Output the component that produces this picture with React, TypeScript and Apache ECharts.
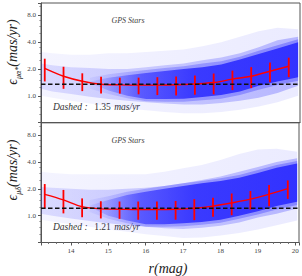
import React, { useEffect, useRef } from "react";
import * as echarts from "echarts";

// Binned statistics (magnitude bins)
const mags = [13.3, 13.8, 14.3, 14.8, 15.3, 15.8, 16.3, 16.8, 17.3, 17.8, 18.3, 18.8, 19.3, 19.8];
const raMean = [2.03, 1.66, 1.46, 1.35, 1.33, 1.32, 1.32, 1.33, 1.36, 1.41, 1.54, 1.66, 1.89, 2.15];
const raSigma = [0.58, 0.46, 0.33, 0.29, 0.27, 0.28, 0.3, 0.32, 0.33, 0.37, 0.38, 0.44, 0.47, 0.53];
const decMean = [1.73, 1.5, 1.26, 1.19, 1.18, 1.17, 1.17, 1.18, 1.21, 1.28, 1.39, 1.53, 1.74, 2.01];
const decSigma = [0.53, 0.44, 0.3, 0.26, 0.26, 0.27, 0.27, 0.28, 0.32, 0.31, 0.38, 0.36, 0.47, 0.47];
const raDashed = 1.35;
const decDashed = 1.21;

// Point cloud envelopes
const cloudMag = [13.2, 13.5, 14, 14.5, 15, 15.5, 16, 16.5, 17, 17.5, 18, 18.5, 19, 19.5, 20.05];
const raHaloTop = [3.1, 3.0, 2.9, 2.9, 3.0, 3.0, 3.1, 3.2, 3.3, 3.6, 4.0, 4.6, 5.3, 5.8, 5.6];
const raHaloBot = [1.0, 0.95, 0.88, 0.82, 0.76, 0.72, 0.69, 0.66, 0.64, 0.64, 0.66, 0.7, 0.76, 0.85, 1.0];
const raMidTop = [2.3, 2.2, 2.1, 2.05, 2.0, 2.0, 2.1, 2.2, 2.3, 2.5, 2.7, 3.0, 3.5, 4.2, 4.6];
const raMidBot = [1.2, 1.12, 1.05, 0.98, 0.92, 0.88, 0.85, 0.82, 0.8, 0.8, 0.83, 0.88, 0.95, 1.08, 1.3];
const decHaloTop = [3.1, 3.0, 2.9, 2.9, 2.9, 2.9, 2.9, 3.1, 3.4, 3.7, 4.2, 4.9, 5.5, 5.6, 5.2];
const decHaloBot = [0.9, 0.86, 0.8, 0.75, 0.7, 0.66, 0.62, 0.59, 0.56, 0.57, 0.6, 0.64, 0.7, 0.78, 0.88];
const decMidTop = [2.1, 2.05, 2.0, 1.95, 1.95, 2.0, 2.05, 2.15, 2.3, 2.5, 2.75, 3.1, 3.5, 4.0, 4.4];
const decMidBot = [1.05, 1.0, 0.93, 0.87, 0.82, 0.78, 0.75, 0.72, 0.71, 0.73, 0.77, 0.84, 0.95, 1.05, 1.2];

const coreMag = [14.5, 15, 15.5, 16, 16.5, 17, 17.5, 18, 18.5, 19, 19.5, 20.05];
const raInnerTop = [1.6, 1.75, 1.85, 1.95, 2.05, 2.15, 2.3, 2.45, 2.75, 3.2, 3.7, 4.3];
const raInnerBot = [1.2, 1.05, 0.94, 0.87, 0.86, 0.86, 0.89, 0.93, 1.02, 1.17, 1.32, 1.48];
const raCoreTop = [1.45, 1.6, 1.7, 1.8, 1.9, 2.0, 2.1, 2.25, 2.55, 2.95, 3.4, 4.0];
const raCoreBot = [1.4, 1.15, 1.0, 0.92, 0.92, 0.93, 0.97, 1.02, 1.12, 1.3, 1.45, 1.62];
const decInnerTop = [1.5, 1.65, 1.85, 2.0, 2.15, 2.3, 2.45, 2.62, 2.85, 3.25, 3.7, 4.1];
const decInnerBot = [1.1, 0.92, 0.82, 0.75, 0.75, 0.76, 0.79, 0.83, 0.92, 1.03, 1.17, 1.32];
const decCoreTop = [1.3, 1.5, 1.7, 1.85, 2.0, 2.15, 2.3, 2.45, 2.65, 3.0, 3.45, 3.85];
const decCoreBot = [1.25, 1.0, 0.88, 0.8, 0.8, 0.82, 0.85, 0.9, 1.0, 1.12, 1.28, 1.43];

const yTickValues = [1, 2, 4, 8];
const X_MIN = 13.2;
const X_MAX = 20.1;
const Y_MIN = 0.5;
const Y_MAX = 11;

const SERIF = "'Liberation Serif', 'DejaVu Serif', serif";

function rgba(a: number) {
  return `rgba(32,32,255,${a})`;
}

function band(idx: number, xs: number[], top: number[], bot: number[], stops: [number, number][], z: number) {
  const fill = new echarts.graphic.LinearGradient(
    0, 0, 1, 0,
    stops.map(([o, a]) => ({ offset: o, color: rgba(a) }))
  );
  return {
    type: "custom",
    xAxisIndex: idx,
    yAxisIndex: idx,
    clip: true,
    silent: true,
    z,
    data: [[xs[0], top[0]]],
    renderItem: (_p: any, api: any) => {
      const up = xs.map((x, i) => api.coord([x, top[i]]));
      const lo = xs.map((x, i) => api.coord([x, bot[i]])).reverse();
      return {
        type: "polygon",
        shape: { points: up.concat(lo), smooth: 0 },
        style: { fill, stroke: null },
      };
    },
  };
}

function errBars(idx: number, mean: number[], sig: number[]) {
  return {
    type: "custom",
    xAxisIndex: idx,
    yAxisIndex: idx,
    z: 6,
    encode: { x: 0, y: [1, 2] },
    data: mags.map((m, i) => [m, mean[i] - sig[i], mean[i] + sig[i]]),
    renderItem: (_p: any, api: any) => {
      const a = api.coord([api.value(0), api.value(1)]);
      const b = api.coord([api.value(0), api.value(2)]);
      return {
        type: "line",
        shape: { x1: a[0], y1: a[1], x2: b[0], y2: b[1] },
        style: { stroke: "#ff0000", lineWidth: 1.8 },
      };
    },
  };
}

function panelSeries(
  idx: number,
  haloTop: number[], haloBot: number[], midTop: number[], midBot: number[],
  innerTop: number[], innerBot: number[],
  coreTop: number[], coreBot: number[], mean: number[], sig: number[], dashed: number
) {
  return [
    band(idx, cloudMag, haloTop, haloBot, [[0, 0.05], [0.5, 0.07], [1, 0.09]], 1),
    band(idx, cloudMag, midTop, midBot, [[0, 0.12], [0.3, 0.18], [1, 0.26]], 2),
    band(idx, coreMag, innerTop, innerBot, [[0, 0.05], [0.25, 0.25], [1, 0.32]], 3),
    band(idx, coreMag, coreTop, coreBot, [[0, 0.05], [0.25, 0.55], [0.5, 0.78], [1, 0.82]], 4),
    {
      type: "line",
      xAxisIndex: idx,
      yAxisIndex: idx,
      z: 5,
      smooth: 0.35,
      symbol: "none",
      lineStyle: { color: "#ff0000", width: 1.4 },
      data: mags.map((m, i) => [m, mean[i]]),
    },
    errBars(idx, mean, sig),
    {
      type: "line",
      xAxisIndex: idx,
      yAxisIndex: idx,
      z: 7,
      symbol: "none",
      lineStyle: { color: "#111", width: 1.3, type: [4.5, 2.5] },
      data: [[X_MIN, dashed], [X_MAX, dashed]],
    },
  ];
}

function yAxis(idx: number) {
  return {
    type: "log",
    logBase: 2,
    gridIndex: idx,
    min: Y_MIN,
    max: Y_MAX,
    axisLine: { show: true, lineStyle: { color: "#555", width: 1 } },
    axisTick: { show: true, length: 3, lineStyle: { color: "#555" } },
    minorTick: { show: true, splitNumber: 4, length: 1.5, lineStyle: { color: "#777" } },
    splitLine: { show: false },
    minorSplitLine: { show: false },
    axisLabel: {
      fontFamily: SERIF,
      fontSize: 7,
      color: "#444",
      margin: 5,
      formatter: (v: number) => {
        const r = Math.round(v * 100) / 100;
        return yTickValues.includes(r) ? r.toFixed(1) : "";
      },
    },
  };
}

function xAxis(idx: number, labels: boolean) {
  return {
    type: "value",
    gridIndex: idx,
    min: X_MIN,
    max: X_MAX,
    splitNumber: 7,
    axisLine: { show: true, onZero: false, lineStyle: { color: "#555", width: 1 } },
    axisTick: { show: labels, length: 3, lineStyle: { color: "#555" } },
    minorTick: { show: labels, splitNumber: 5, length: 1.5, lineStyle: { color: "#777" } },
    splitLine: { show: false },
    axisLabel: {
      show: labels,
      fontFamily: SERIF,
      fontSize: 7,
      color: "#444",
      margin: 5,
      formatter: (v: number) => (Math.abs(v - Math.round(v)) < 1e-6 ? String(Math.round(v)) : ""),
    },
  };
}

function yName(x: number, y: number, sub: string) {
  return {
    type: "text",
    x,
    y,
    rotation: Math.PI / 2,
    style: {
      text: `{a|ϵ}{s|${sub}}{a|(mas/yr)}`,
      align: "center",
      verticalAlign: "middle",
      rich: {
        a: { fontFamily: SERIF, fontStyle: "italic", fontSize: 14, fill: "#222", lineHeight: 20, verticalAlign: "middle" },
        s: { fontFamily: SERIF, fontStyle: "italic", fontSize: 8, fill: "#222", lineHeight: 20, verticalAlign: "bottom" },
      },
    },
  };
}

function dashedText(x: number, y: number, val: number) {
  return {
    type: "text",
    x,
    y,
    style: {
      text: `{i|Dashed :}  {n|${val.toFixed(2)}} {i|mas/yr}`,
      align: "left",
      verticalAlign: "middle",
      rich: {
        i: { fontFamily: SERIF, fontStyle: "italic", fontSize: 9.5, fill: "#333" },
        n: { fontFamily: SERIF, fontSize: 9.5, fill: "#333" },
      },
    },
  };
}

function gpsText(x: number, y: number) {
  return {
    type: "text",
    x,
    y,
    style: {
      text: "GPS Stars",
      align: "center",
      verticalAlign: "middle",
      fontFamily: SERIF,
      fontStyle: "italic",
      fontSize: 8,
      fill: "#444",
    },
  };
}

export default function App() {
  const ref = useRef<HTMLDivElement>(null);
  useEffect(() => {
    if (!ref.current) return;
    const chart = echarts.init(ref.current, undefined, { renderer: "svg" });
    chart.setOption({
      animation: false,
      backgroundColor: "#fff",
      grid: [
        { left: 41, top: 3, width: 259, height: 119.7, show: true, borderColor: "#555", borderWidth: 1, backgroundColor: "transparent" },
        { left: 41, top: 122.7, width: 259, height: 119.8, show: true, borderColor: "#555", borderWidth: 1, backgroundColor: "transparent" },
      ],
      xAxis: [xAxis(0, false), xAxis(1, true)],
      yAxis: [yAxis(0), yAxis(1)],
      series: [
        ...panelSeries(0, raHaloTop, raHaloBot, raMidTop, raMidBot, raInnerTop, raInnerBot, raCoreTop, raCoreBot, raMean, raSigma, raDashed),
        ...panelSeries(1, decHaloTop, decHaloBot, decMidTop, decMidBot, decInnerTop, decInnerBot, decCoreTop, decCoreBot, decMean, decSigma, decDashed),
      ],
      graphic: [
        yName(12, 52, "μα*"),
        yName(12, 170, "μδ"),
        gpsText(128, 20),
        gpsText(128, 140),
        dashedText(53, 107, raDashed),
        dashedText(53, 227, decDashed),
        {
          type: "text",
          x: 168,
          y: 268,
          style: {
            text: "r(mag)",
            align: "center",
            verticalAlign: "middle",
            fontFamily: SERIF,
            fontStyle: "italic",
            fontSize: 14,
            fill: "#222",
          },
        },
      ],
    });
    return () => chart.dispose();
  }, []);
  return (
    <div
      ref={ref}
      style={{ position: "fixed", left: 0, top: 0, width: 302, height: 276 }}
    />
  );
}
